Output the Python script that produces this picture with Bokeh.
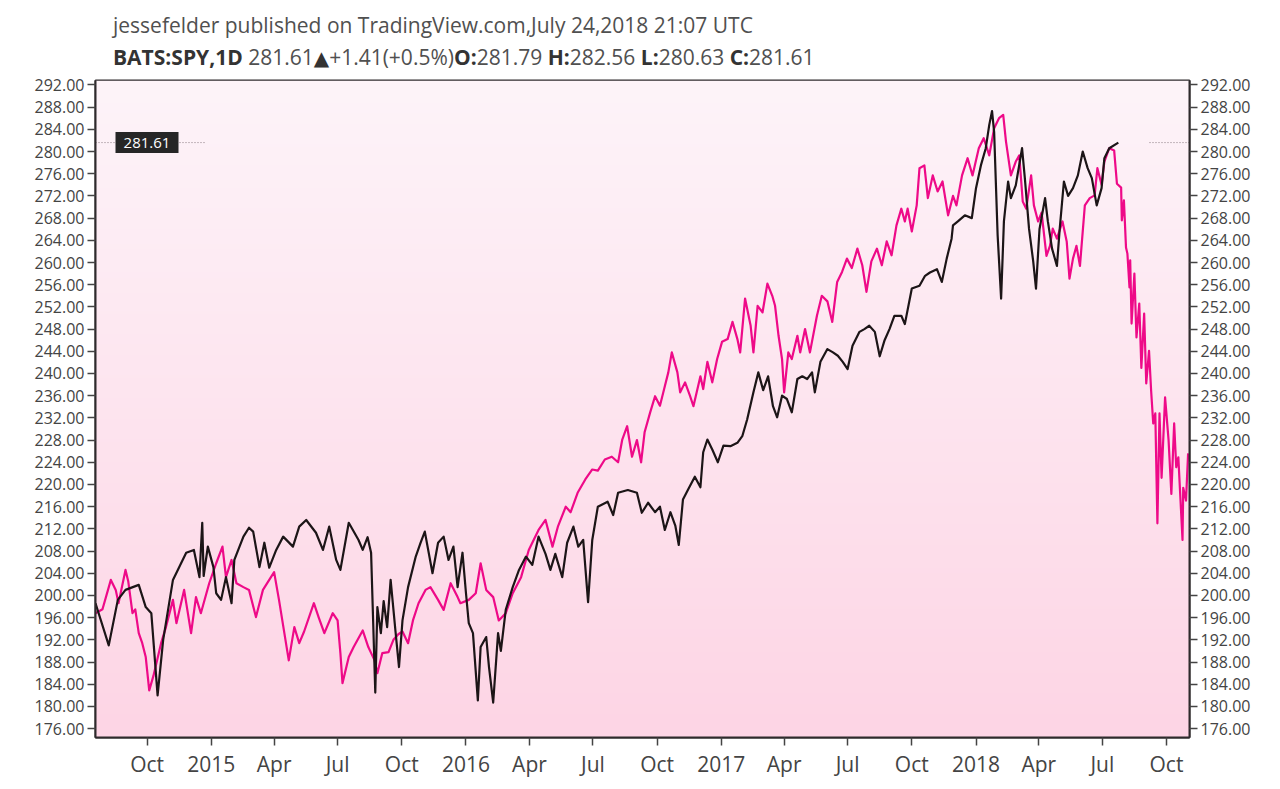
import numpy as np
import pandas as pd
from bokeh.plotting import figure
from bokeh.models import Range1d, LinearAxis, FixedTicker, NumeralTickFormatter, Label, Div
from bokeh.layouts import column
from bokeh.embed import file_html
from bokeh.resources import INLINE

# ---------------- data ----------------
spy_dates = [
"2014-07-19","2014-08-07","2014-08-20","2014-08-31","2014-09-19","2014-09-29","2014-10-07","2014-10-16","2014-10-24","2014-10-31",
"2014-11-07","2014-11-26","2014-12-07","2014-12-15","2014-12-19","2014-12-21","2014-12-27","2015-01-04","2015-01-08","2015-01-15",
"2015-01-22","2015-01-30","2015-02-03","2015-02-16","2015-02-24","2015-03-02","2015-03-11","2015-03-18","2015-03-25","2015-04-04",
"2015-04-14","2015-04-28","2015-05-07","2015-05-17","2015-05-31","2015-06-10","2015-06-19","2015-06-29","2015-07-05","2015-07-17",
"2015-07-31","2015-08-06","2015-08-13","2015-08-18","2015-08-24","2015-08-27","2015-09-01","2015-09-05","2015-09-10","2015-09-15",
"2015-09-22","2015-09-27","2015-10-02","2015-10-10","2015-10-21","2015-10-28","2015-11-03","2015-11-14","2015-11-22","2015-11-30",
"2015-12-07","2015-12-14","2015-12-20","2015-12-27","2016-01-01","2016-01-05","2016-01-11","2016-01-18","2016-01-22","2016-01-30",
"2016-02-03","2016-02-09","2016-02-16","2016-02-20","2016-02-27","2016-03-08","2016-03-17","2016-03-27","2016-04-05","2016-04-14",
"2016-04-24","2016-05-01","2016-05-08","2016-05-18","2016-05-25","2016-06-03","2016-06-10","2016-06-17","2016-06-24","2016-06-30",
"2016-07-08","2016-07-22","2016-07-30","2016-08-06","2016-08-20","2016-09-02","2016-09-09","2016-09-18","2016-09-28","2016-10-05",
"2016-10-12","2016-10-20","2016-10-27","2016-11-01","2016-11-07","2016-11-14","2016-11-24","2016-12-02","2016-12-06","2016-12-12",
"2016-12-19","2016-12-27","2017-01-04","2017-01-14","2017-01-24","2017-01-31","2017-02-07","2017-02-16","2017-02-23","2017-03-02",
"2017-03-09","2017-03-16","2017-03-22","2017-03-29","2017-04-05","2017-04-12","2017-04-20","2017-04-27","2017-05-04","2017-05-11",
"2017-05-15","2017-05-23","2017-06-02","2017-06-10","2017-06-17","2017-06-24","2017-07-01","2017-07-08","2017-07-18","2017-07-25",
"2017-08-01","2017-08-09","2017-08-16","2017-08-23","2017-08-30","2017-09-06","2017-09-16","2017-09-21","2017-10-01","2017-10-12",
"2017-10-20","2017-10-27","2017-11-06","2017-11-13","2017-11-20","2017-11-27","2017-11-29","2017-12-06","2017-12-16","2017-12-26",
"2018-01-01","2018-01-08","2018-01-15","2018-01-20","2018-01-24","2018-01-27","2018-02-01","2018-02-06","2018-02-10","2018-02-16",
"2018-02-20","2018-02-27","2018-03-08","2018-03-12","2018-03-18","2018-03-24","2018-03-28","2018-04-02","2018-04-10","2018-04-14",
"2018-04-20","2018-04-27","2018-05-01","2018-05-07","2018-05-13","2018-05-20","2018-05-27","2018-06-03","2018-06-10","2018-06-16",
"2018-06-23","2018-06-30","2018-07-04","2018-07-11","2018-07-24",
]
spy_values = [
198.6,191.0,199.2,201.0,201.9,197.9,196.8,182.0,192.0,197.4,
202.8,207.7,208.2,203.3,213.1,203.5,208.8,205.1,200.4,199.2,
203.3,198.6,206.4,210.6,212.2,211.5,205.1,209.5,205.0,208.2,
210.6,208.8,212.4,213.6,211.3,208.2,212.4,206.4,204.6,213.1,
210.0,208.2,210.5,207.7,182.5,197.9,193.2,199.0,194.3,202.8,
193.5,187.1,195.5,201.5,207.0,209.5,211.5,204.0,209.5,210.6,
206.4,208.8,201.5,207.7,200.4,195.0,193.2,181.1,190.7,192.5,
187.1,180.7,193.2,190.0,197.4,201.5,204.6,207.0,205.5,210.6,
207.5,204.6,207.5,203.3,209.5,212.4,208.8,210.0,198.8,210.0,
216.0,216.9,214.5,218.5,219.0,218.5,214.9,216.7,215.0,216.0,
211.8,215.0,212.6,209.1,217.3,219.0,221.4,219.5,225.8,228.1,
226.3,224.0,227.0,226.9,227.5,228.7,231.7,236.6,240.2,237.0,
239.5,234.1,232.1,236.0,235.4,233.0,239.0,239.5,239.0,240.2,
236.6,242.1,244.4,243.8,243.2,242.1,240.8,245.0,247.5,248.0,
248.6,247.5,243.1,246.0,248.0,250.4,250.4,248.9,255.3,255.8,
257.6,258.2,258.8,256.5,260.7,264.3,266.7,267.4,268.5,268.0,
273.4,277.5,280.6,284.8,287.3,283.5,264.9,253.5,267.4,274.6,
271.6,273.9,280.6,275.2,266.1,260.2,255.3,266.0,271.6,267.4,
262.5,259.4,266.1,274.6,272.0,273.4,275.7,280.0,277.0,275.2,
270.3,273.4,278.8,280.6,281.61,
]

overlay_dates = [
"2014-07-19","2014-07-29","2014-08-10","2014-08-17","2014-08-21","2014-08-31","2014-09-04","2014-09-10","2014-09-14","2014-09-19",
"2014-09-24","2014-09-29","2014-10-04","2014-10-10","2014-10-21","2014-10-28","2014-11-07","2014-11-12","2014-11-23","2014-12-03",
"2014-12-10","2014-12-17","2014-12-29","2015-01-08","2015-01-17","2015-01-22","2015-01-30","2015-02-06","2015-02-16","2015-02-24",
"2015-03-06","2015-03-16","2015-03-25","2015-04-01","2015-04-08","2015-04-22","2015-04-30","2015-05-07","2015-05-14","2015-05-28",
"2015-06-04","2015-06-12","2015-06-24","2015-07-01","2015-07-05","2015-07-08","2015-07-17","2015-07-24","2015-08-06","2015-08-14",
"2015-08-23","2015-08-27","2015-09-03","2015-09-12","2015-09-19","2015-09-26","2015-10-02","2015-10-10","2015-10-17","2015-10-25",
"2015-11-04","2015-11-11","2015-11-22","2015-11-30","2015-12-10","2015-12-20","2015-12-24","2016-01-05","2016-01-15","2016-01-22",
"2016-01-30","2016-02-09","2016-02-17","2016-02-27","2016-03-08","2016-03-20","2016-03-31","2016-04-14","2016-04-24","2016-05-04",
"2016-05-12","2016-05-23","2016-05-30","2016-06-09","2016-06-20","2016-06-30","2016-07-08","2016-07-18","2016-07-28","2016-08-06",
"2016-08-12","2016-08-19","2016-08-26","2016-09-02","2016-09-08","2016-09-13","2016-09-21","2016-09-28","2016-10-05","2016-10-12",
"2016-10-17","2016-10-22","2016-10-30","2016-11-03","2016-11-10","2016-11-17","2016-11-22","2016-12-02","2016-12-06","2016-12-12",
"2016-12-19","2016-12-26","2017-01-02","2017-01-10","2017-01-17","2017-01-24","2017-01-28","2017-02-04","2017-02-12","2017-02-16",
"2017-02-22","2017-03-01","2017-03-08","2017-03-15","2017-03-19","2017-03-24","2017-03-29","2017-04-01","2017-04-07","2017-04-12",
"2017-04-20","2017-04-24","2017-05-01","2017-05-08","2017-05-18","2017-05-25","2017-06-02","2017-06-09","2017-06-16","2017-06-23",
"2017-06-30","2017-07-07","2017-07-15","2017-07-22","2017-07-28","2017-08-04","2017-08-12","2017-08-19","2017-08-26","2017-09-02",
"2017-09-09","2017-09-16","2017-09-21","2017-09-25","2017-10-01","2017-10-08","2017-10-12","2017-10-19","2017-10-24","2017-10-31",
"2017-11-07","2017-11-14","2017-11-22","2017-11-29","2017-12-04","2017-12-12","2017-12-20","2017-12-27","2018-01-05","2018-01-12",
"2018-01-20","2018-01-27","2018-02-03","2018-02-09","2018-02-13","2018-02-20","2018-02-27","2018-03-04","2018-03-09","2018-03-14",
"2018-03-21","2018-03-25","2018-03-31","2018-04-05","2018-04-12","2018-04-17","2018-04-21","2018-04-27","2018-05-05","2018-05-11",
"2018-05-15","2018-05-20","2018-05-25","2018-05-30","2018-06-06","2018-06-13","2018-06-20","2018-06-24","2018-06-30","2018-07-04",
"2018-07-11","2018-07-18","2018-07-22","2018-07-28","2018-07-29","2018-08-01","2018-08-04","2018-08-06","2018-08-09","2018-08-10",
"2018-08-12","2018-08-16","2018-08-19","2018-08-23","2018-08-26","2018-08-30","2018-09-02","2018-09-06","2018-09-09","2018-09-12",
"2018-09-15","2018-09-18","2018-09-21","2018-09-24","2018-09-29","2018-10-04","2018-10-08","2018-10-12","2018-10-15","2018-10-18",
"2018-10-24","2018-10-25","2018-10-29","2018-11-01",
]
overlay_values = [
196.8,197.5,202.8,201.0,198.6,204.6,202.5,196.8,197.5,193.2,
191.4,188.9,182.9,185.5,191.4,194.3,199.2,195.0,201.0,193.2,
199.7,196.8,202.2,205.8,208.8,203.3,206.4,202.2,201.5,201.0,
196.1,201.0,202.8,204.2,199.2,188.3,194.3,191.4,193.5,198.6,
196.0,193.2,196.8,195.5,189.6,184.2,188.9,190.7,193.7,190.7,
188.3,186.0,189.6,189.8,192.0,193.0,193.5,191.4,195.5,198.6,
201.0,201.5,199.2,197.4,202.2,199.7,198.6,199.2,200.4,205.8,
201.0,199.7,195.5,196.8,200.4,203.3,208.2,211.8,213.6,208.8,
212.5,216.0,215.0,218.5,220.9,222.7,222.5,224.5,225.0,224.0,
228.1,230.5,225.0,228.0,224.0,229.4,233.0,235.9,234.2,237.7,
240.2,243.8,240.2,236.6,238.4,236.0,234.1,239.5,237.2,242.1,
238.4,242.6,245.7,246.2,249.3,246.2,243.8,253.5,248.6,243.8,
252.2,251.0,256.2,254.0,252.2,246.8,242.6,236.6,243.8,242.6,
246.8,243.8,248.0,243.8,250.4,254.0,253.0,249.3,256.5,258.3,
260.7,259.0,262.5,259.5,254.7,260.2,262.5,259.5,263.8,261.3,
266.7,269.7,267.4,269.7,265.6,270.3,277.0,277.5,271.6,275.7,
272.8,274.6,268.5,272.0,270.3,275.7,278.8,275.7,280.6,282.4,
279.3,284.2,286.0,286.6,281.8,275.7,278.2,279.3,271.0,269.7,
275.7,270.3,267.4,269.0,261.2,263.0,266.1,264.3,267.4,263.8,
257.1,260.7,263.0,259.4,270.3,271.6,272.1,277.0,274.0,278.2,
280.6,280.2,274.2,273.5,267.6,271.2,262.7,261.6,255.5,260.4,
249.0,258.0,246.5,252.6,241.0,250.8,238.2,244.1,236.9,231.0,
232.8,213.0,232.8,221.2,235.7,228.0,218.3,231.0,223.1,224.9,
210.0,219.4,217.1,225.6,
]

y_ticks = list(range(176, 293, 4))
x_tick_dates = ["2014-10-01","2015-01-01","2015-04-01","2015-07-01","2015-10-01","2016-01-01","2016-04-01",
                "2016-07-01","2016-10-01","2017-01-01","2017-04-01","2017-07-01","2017-10-01","2018-01-01",
                "2018-04-01","2018-07-01","2018-10-01"]
x_tick_labels = ["Oct","2015","Apr","Jul","Oct","2016","Apr","Jul","Oct","2017","Apr","Jul","Oct","2018","Apr","Jul","Oct"]
x_start, x_end = "2014-07-19", "2018-11-03"
y_start, y_end = 174.4, 292.8

header_line1 = "jessefelder published on TradingView.com,July 24,2018 21:07 UTC"
header_parts = ["BATS:SPY,1D", " 281.61", "\u25B2", "+1.41(+0.5%)", "O:", "281.79", " H:", "282.56",
                " L:", "280.63", " C:", "281.61"]
header_bold = [True, False, False, False, True, False, True, False, True, False, True, False]
last_price = spy_values[-1]

# ---------------- header (HTML text above the chart) ----------------
FONT = "Open Sans"
W = 1264
HEAD_H = 72
line2 = "".join(
    (f'<b style="color:#333333">{t_}</b>' if b else
     (f'<span style="font-family:\'DejaVu Sans\';font-size:20px;color:#333333">{t_}</span>' if t_ == "\u25B2" else t_))
    for t_, b in zip(header_parts, header_bold))
header_html = (
    f'<div style="margin:9px 0 0 113px;line-height:32px;white-space:nowrap;'
    f'font-family:\'{FONT}\';font-size:21px;color:#505050">'
    f'<div>{header_line1}</div><div>{line2}</div></div>'
)
head = Div(text=header_html, width=W, height=HEAD_H, margin=0)

# ---------------- figure ----------------
H = 781 - HEAD_H
ML, MR, MT, MB = 95, 75, 8, 44
frame_w = W - ML - MR
frame_h = H - MT - MB

def ms(s):
    return pd.Timestamp(s).value // 10**6

xs, xe = ms(x_start), ms(x_end)
span = xe - xs

def x_at(px):                               # data x for a pixel offset from the frame's left edge
    return xs + span * px / frame_w

p = figure(width=W, height=H, output_backend="svg", toolbar_location=None,
           x_axis_type="datetime", x_range=Range1d(xs, xe), y_range=Range1d(y_start, y_end),
           min_border_left=ML, min_border_right=MR, min_border_top=MT, min_border_bottom=MB, margin=0)
p.background_fill_color = "#fde9f1"
p.border_fill_color = "white"
p.outline_line_color = "#2e2a2c"
p.outline_line_width = 2
p.outline_line_alpha = 1.0
p.xgrid.grid_line_color = None
p.ygrid.grid_line_color = None

# vertical gradient background (pale pink at top to pink at bottom)
n = 256
t = np.linspace(0.0, 1.0, n)[:, None]
top_rgb = np.array([254, 244, 249], dtype=float)
bot_rgb = np.array([253, 213, 229], dtype=float)
cols = bot_rgb + (top_rgb - bot_rgb) * t
img = np.empty((n, 1), dtype=np.uint32)
view = img.view(dtype=np.uint8).reshape((n, 1, 4))
view[:, 0, 0] = cols[:, 0].astype(np.uint8)
view[:, 0, 1] = cols[:, 1].astype(np.uint8)
view[:, 0, 2] = cols[:, 2].astype(np.uint8)
view[:, 0, 3] = 255
p.image_rgba(image=[img], x=xs, y=y_start, dw=span, dh=y_end - y_start)

# series
p.line(pd.to_datetime(overlay_dates), overlay_values, line_color="#ee0a88", line_width=2.2, line_join="round")
p.line(pd.to_datetime(spy_dates), spy_values, line_color="#1c1517", line_width=2.2, line_join="round")

# last price dotted lines + label box
p.segment(x0=[xs, x_at(1054)], x1=[x_at(110), xe],
          y0=[last_price, last_price], y1=[last_price, last_price],
          line_color="#8a7a80", line_width=1, line_dash="1 2")
p.rect(x=[x_at(51.5)], y=[last_price], width=63, height=21, width_units="screen", height_units="screen",
       fill_color="#262626", line_color=None)
p.add_layout(Label(x=51.5, y=last_price, x_units="screen", y_units="data", text=f"{last_price:.2f}",
                   text_color="white", text_font=FONT, text_font_size="15px",
                   text_baseline="middle", text_align="center"))

# axes
def style_axis(ax, size):
    ax.axis_line_color = "#2e2a2c"
    ax.axis_line_width = 2
    ax.major_tick_line_color = "#444444"
    ax.major_tick_line_width = 1.5
    ax.major_tick_out = 8
    ax.major_tick_in = 0
    ax.minor_tick_out = 0
    ax.minor_tick_in = 0
    ax.major_label_text_font = FONT
    ax.major_label_text_color = "#444444"
    ax.major_label_text_font_size = size

style_axis(p.yaxis[0], "16px")
p.yaxis[0].ticker = FixedTicker(ticks=y_ticks)
p.yaxis[0].formatter = NumeralTickFormatter(format="0.00")
p.yaxis[0].major_label_standoff = 3

tick_ms = [ms(d) for d in x_tick_dates]
style_axis(p.xaxis[0], "21px")
p.xaxis[0].ticker = FixedTicker(ticks=tick_ms)
p.xaxis[0].major_label_overrides = {t_: lab for t_, lab in zip(tick_ms, x_tick_labels)}
p.xaxis[0].major_label_standoff = 4

ry = LinearAxis(ticker=FixedTicker(ticks=y_ticks), formatter=NumeralTickFormatter(format="0.00"))
style_axis(ry, "16px")
ry.major_label_standoff = 3
p.add_layout(ry, "right")

layout = column(head, p, spacing=0, margin=0)
open("out.html", "w").write(file_html(layout, INLINE))
